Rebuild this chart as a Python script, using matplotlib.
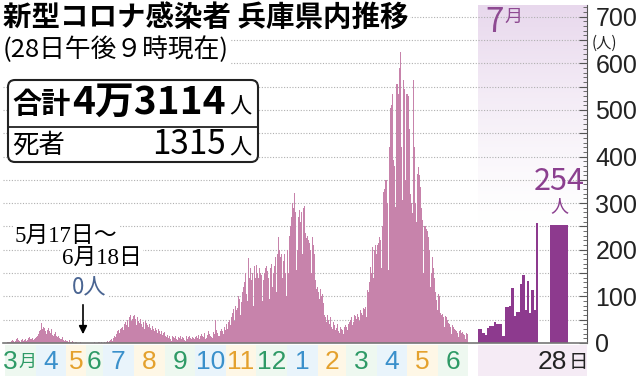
import datetime as dt
import numpy as np
import matplotlib.pyplot as plt
from matplotlib.patches import FancyBboxPatch, Rectangle

plt.rcParams['font.family'] = ['Noto Sans CJK JP', 'DejaVu Sans']

# daily new cases in Hyogo (Mar 1 2020 - Jun 30 2021)
mar20 = [1,1,2,2,3,2,4,6,5,3,4,8,10,7,5,3,6,9,4,6,8,5,7,10,12,8,9,11,6,8,10]
apr20 = [12,15,20,25,28,43,30,35,32,26,20,28,33,25,22,30,18,15,20,24,16,12,14,10,8,9,12,6,5,7]
may20 = [5,4,3,6,2,3,4,2,1,3,2,1,0,1,2,0] + [0] * 15
jun20 = [0] * 18 + [0,1,0,2,1,0,1,3,2,1,2,1]
jul20 = [1,2,1,3,5,2,4,6,8,5,10,15,12,20,25,28,22,30,32,35,28,40,45,38,50,35,55,60,48,52,58]
aug20 = [60,52,38,55,48,42,52,40,35,45,30,48,42,38,35,40,32,28,36,30,25,33,28,22,30,25,20,26,18,22,24]
sep20 = [15,12,18,10,14,8,5,16,12,10,14,9,6,13,11,15,8,12,10,7,5,14,9,12,16,10,8,13,11,9]
oct20 = [12,15,10,18,8,14,20,16,12,22,9,11,18,25,20,15,12,10,24,19,50,28,22,14,16,26,30,25,20,35,28]
nov20 = [40,30,45,50,38,55,65,72,48,80,70,75,100,95,60,88,110,120,130,150,105,90,182,140,160,135,150,80,165,140]
dec20 = [168,150,140,160,150,145,90,135,150,160,165,155,140,95,160,170,120,150,165,185,110,190,228,200,185,190,140,175,190,150,100]
jan21 = [200,150,230,250,270,300,290,321,280,157,200,270,285,260,280,190,290,293,235,225,230,220,215,200,150,228,210,190,135,115,120]
feb21 = [110,95,115,100,105,85,60,55,45,60,50,40,55,35,30,45,38,28,32,40,25,22,35,30,28,20,35,38]
mar21 = [35,28,40,45,50,55,38,45,60,58,52,62,55,48,70,65,60,75,72,78,55,113,110,130,163,150,206,140,200,210,190]
apr21 = [210,215,228,220,160,250,324,330,350,350,300,156,420,503,510,535,392,380,292,556,556,535,590,624,420,306,564,545,349,535]
may21 = [535,530,460,320,300,278,564,420,300,260,363,378,360,335,290,264,150,250,250,245,240,228,200,120,150,185,160,140,110,92,70]
jun21 = [106,100,64,60,63,55,35,58,55,50,42,40,35,20,38,35,30,28,25,22,12,25,28,22,24,20,18,8,22,20]

# July 2021, 1st-27th, and the 28th (highlighted)
jul21 = [29,29,22,17,33,36,36,46,41,41,41,14,77,77,79,119,57,66,66,126,145,71,134,64,114,70,258]
today = 254

month_labels = ['3', '4', '5', '6', '7', '8', '9', '10', '11', '12', '1', '2', '3', '4', '5', '6']
total_text = '4万3114'
death_text = '1315'

PINK = '#c783ab'
PURPLE = '#8d3a8e'
GREEN, BLUE, ORANGE = '#2e9a66', '#3a90cb', '#e4a12d'
PALE = {GREEN: '#eef8f0', BLUE: '#e9f4fb', ORANGE: '#fef7e6'}
DIGITS = ['Liberation Sans Narrow', 'Liberation Sans', 'DejaVu Sans']

daily = np.array(mar20 + apr20 + may20 + jun20 + jul20 + aug20 + sep20 + oct20 +
                 nov20 + dec20 + jan21 + feb21 + mar21 + apr21 + may21 + jun21)
start = dt.date(2020, 3, 1)
gap0 = (dt.date(2020, 5, 17) - start).days
gap1 = (dt.date(2020, 6, 18) - start).days


def xpos(d):
    # the zero stretch 5/17-6/18 is drawn squeezed in the paper
    d = np.asarray(d, float)
    return np.where(d < gap0, d,
                    np.where(d <= gap1, gap0 + (d - gap0) * 0.25, d - (gap1 - gap0) * 0.75))


days = np.arange(len(daily))
month_starts = []
y, m = 2020, 3
for i in range(len(month_labels) + 1):
    month_starts.append((dt.date(y, m, 1) - start).days)
    m += 1
    if m > 12:
        y, m = y + 1, 1
month_x = xpos(month_starts)

JUL0, JSTEP = 473, 2.22
XMAX = 582

fig = plt.figure(figsize=(6.4, 3.76), dpi=100)
ax = fig.add_axes([3 / 640, 33 / 376, 584 / 640, 338 / 376])

# July background shading
grad = np.linspace(1, 0, 200) ** 1.3
shade = np.zeros((200, 1, 4))
shade[:, 0, :3] = np.array([0.89, 0.81, 0.91])
shade[:, 0, 3] = grad * 0.8
ax.imshow(shade, extent=[JUL0, XMAX, 250, 725], aspect='auto', zorder=0, interpolation='bilinear')

ax.bar(xpos(days) + 0.5, daily, width=1.0, color=PINK, linewidth=0, zorder=2)
jx = JUL0 + JSTEP * (np.arange(len(jul21)) + 0.5)
ax.bar(jx, jul21, width=JSTEP, color=PURPLE, linewidth=0, zorder=2)
ax.bar(554, today, width=18, color=PURPLE, linewidth=0, zorder=2)

ax.set_xlim(-2, XMAX)
ax.set_ylim(0, 725)
ticks = np.arange(0, 701, 50)
ax.set_yticks(ticks, [str(t) if t % 100 == 0 else '' for t in ticks],
              fontsize=18, color='#222222', family=DIGITS)
ax.set_yticks(np.arange(0, 721, 10), minor=True)
ax.yaxis.tick_right()
ax.tick_params(axis='y', which='major', direction='in', length=6, width=0.8, color='#555555', pad=6)
ax.tick_params(axis='y', which='minor', direction='in', length=3, width=0.6, color='#555555')
ax.set_xticks([])
ax.grid(axis='y', which='major', color='#b0b0b0', linestyle=(0, (1, 1.5)), linewidth=0.8)
ax.set_axisbelow(True)
for s in ['left', 'top']:
    ax.spines[s].set_visible(False)
ax.spines['right'].set_color('#555555')
ax.spines['bottom'].set_color('#777777')
ax.spines['bottom'].set_linewidth(1.2)
ax.patch.set_visible(False)

# month band under the axis
band = fig.add_axes([3 / 640, 0, 584 / 640, 31 / 376])
band.set_xlim(-2, XMAX)
band.set_ylim(0, 1)
band.axis('off')
cycle = [GREEN, BLUE, ORANGE]
for i, lab in enumerate(month_labels):
    c = cycle[i % 3]
    x0, x1 = month_x[i], month_x[i + 1]
    band.add_patch(Rectangle((x0, 0), x1 - x0, 1, color=PALE[c], lw=0))
    mid = (x0 + x1) / 2
    if i == 0:
        band.text(mid - 3, 0.45, lab, color=c, fontsize=19, ha='right', va='center', family=DIGITS)
        band.text(mid - 2, 0.45, '月', color=c, fontsize=13, ha='left', va='center')
    else:
        band.text(mid, 0.45, lab, color=c, fontsize=19, ha='center', va='center', family=DIGITS)
band.add_patch(Rectangle((JUL0, 0), XMAX - JUL0, 1, color='#f5ebf5', lw=0))
band.text(562, 0.45, '28', color='#222222', fontsize=19, ha='right', va='center', family=DIGITS)
band.text(564, 0.42, '日', color='#222222', fontsize=14, ha='left', va='center')

# overlay in pixel coordinates for the texts
ov = fig.add_axes([0, 0, 1, 1])
ov.set_xlim(0, 640)
ov.set_ylim(376, 0)
ov.axis('off')
white = dict(facecolor='white', edgecolor='none', pad=1)

ov.text(3, 18, '新型コロナ感染者 兵庫県内推移', fontsize=20.5, fontweight='bold',
        ha='left', va='center', bbox=white)
ov.text(3, 50, '(28日午後９時現在)', fontsize=18.5, ha='left', va='center', bbox=white)

ov.add_patch(FancyBboxPatch((8, 80), 250, 82, boxstyle='round,pad=0,rounding_size=7',
                            fc='white', ec='#222222', lw=1.5))
ov.plot([8, 258], [127, 127], color='#222222', lw=1.3)
ov.text(12, 104, '合計', fontsize=21, fontweight='bold', ha='left', va='center')
ov.text(226, 102, total_text, fontsize=28, fontweight='bold', ha='right', va='center')
ov.text(229, 107, '人', fontsize=16, ha='left', va='center')
ov.text(12, 145, '死者', fontsize=19, ha='left', va='center')
ov.text(226, 144, death_text, fontsize=24, ha='right', va='center')
ov.text(229, 148, '人', fontsize=16, ha='left', va='center')

serif = ['Liberation Serif', 'Noto Sans CJK JP']
ov.text(15, 236, '5月17日～', fontsize=16.5, family=serif, ha='left', va='center', bbox=white)
ov.text(62, 258, '6月18日', fontsize=16.5, family=serif, ha='left', va='center', bbox=white)
ov.text(89, 288, '0人', fontsize=16, color='#4a6592', ha='center', va='center', bbox=white)
ov.annotate('', xy=(83, 337), xytext=(83, 302),
            arrowprops=dict(arrowstyle='-|>', color='black', lw=1.2, mutation_scale=12))

ov.text(485, 22, '7', fontsize=24, color='#8e4a92', ha='left', va='center')
ov.text(504, 17, '月', fontsize=13, color='#8e4a92', ha='left', va='center')
ov.text(559, 182, str(today), fontsize=22, color='#8b3f8f', ha='center', va='center')
ov.text(559, 206, '人', fontsize=13, color='#8b3f8f', ha='center', va='center')
ov.text(592, 43, '(人)', fontsize=11, color='#222222', ha='left', va='center')

fig.savefig('out.png', dpi=100)
